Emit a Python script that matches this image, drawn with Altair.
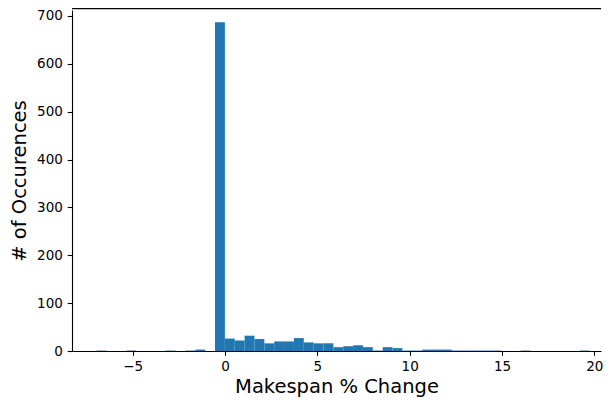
import altair as alt
import pandas as pd

# Histogram counts for 50 equal-width bins
counts = [1, 0, 0, 1, 0, 0, 0, 1, 0, 1,
          3, 0, 687, 26, 22, 32, 25, 16, 20, 20,
          27, 18, 16, 16, 8, 10, 12, 8, 1, 8,
          6, 1, 1, 3, 3, 3, 1, 1, 1, 1,
          1, 0, 0, 1, 0, 0, 0, 0, 0, 1]
bin_start = -6.945
bin_width = 0.534
x_ticks = [-5, 0, 5, 10, 15, 20]
y_ticks = [0, 100, 200, 300, 400, 500, 600, 700]
x_domain = [-8.28, 20.36]
y_domain = [0, 712.5]

df = pd.DataFrame({
    "lo": [bin_start + i * bin_width for i in range(len(counts))],
    "count": counts,
})
df["hi"] = df["lo"] + bin_width

FONT = "DejaVu Sans"

bars = alt.Chart(df).mark_bar(color="#1f77b4", strokeWidth=0).encode(
    x=alt.X("lo:Q", scale=alt.Scale(domain=x_domain, nice=False, zero=False),
            axis=alt.Axis(values=x_ticks, format="d", title="Makespan % Change",
                          titleY=41.5, titleBaseline="alphabetic",
                          tickSize=4.3, labelPadding=3.8)),
    x2="hi:Q",
    y=alt.Y("count:Q", scale=alt.Scale(domain=y_domain, nice=False),
            axis=alt.Axis(values=y_ticks, title="# of Occurences",
                          titleX=-47, titleBaseline="alphabetic")),
    y2=alt.datum(0),
)

top_border = alt.Chart(pd.DataFrame({"a": [0]})).mark_rule(
    color="black", strokeWidth=1.1
).encode(y=alt.value(-1.4))

chart = alt.layer(bars, top_border).properties(
    width=529,
    height=341,
    autosize=alt.AutoSizeParams(type="none"),
    padding={"left": 64, "top": 2, "right": 2, "bottom": 46},
).configure_view(stroke=None).configure_axis(
    grid=False,
    domainColor="black",
    domainWidth=1.1,
    tickColor="black",
    tickWidth=1.1,
    tickSize=4.8,
    labelPadding=4.8,
    labelColor="black",
    labelFont=FONT,
    labelFontSize=13.5,
    titleColor="black",
    titleFont=FONT,
    titleFontSize=19.5,
    titleFontWeight="normal",
)

chart.save("out.html", embed_options={"renderer": "svg", "actions": False})
